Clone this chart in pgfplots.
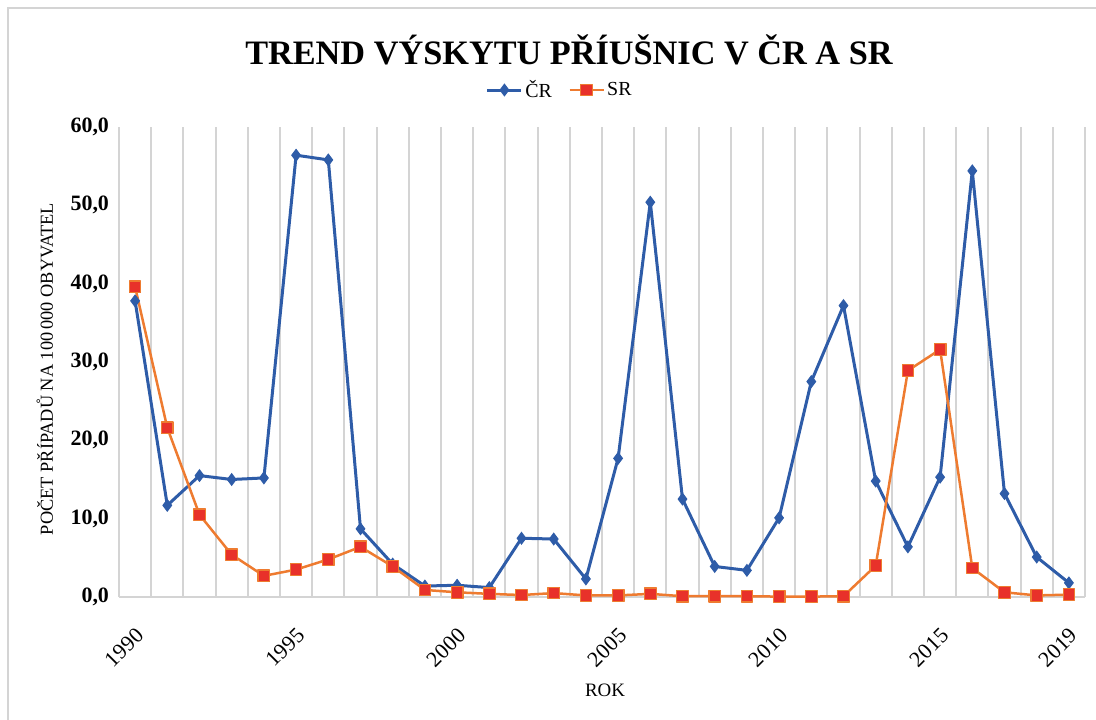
\documentclass[border=0pt]{standalone}
\usepackage{fontspec}
\setmainfont{Liberation Serif}
\usepackage{pgfplots}
\pgfplotsset{compat=1.18}
\definecolor{crblue}{HTML}{2E5CA8}
\definecolor{srorange}{HTML}{EE7B30}
\definecolor{srred}{HTML}{E8312A}
\definecolor{gridgray}{HTML}{D4D4D4}
\pgfplotstableread{
year cr sr
1990 37.8 39.6
1991 11.7 21.6
1992 15.5 10.5
1993 15.0 5.4
1994 15.2 2.7
1995 56.4 3.5
1996 55.8 4.8
1997 8.7 6.4
1998 4.2 3.9
1999 1.4 0.9
2000 1.5 0.6
2001 1.2 0.4
2002 7.5 0.25
2003 7.4 0.5
2004 2.3 0.2
2005 17.7 0.2
2006 50.4 0.4
2007 12.5 0.1
2008 3.9 0.1
2009 3.4 0.1
2010 10.1 0.05
2011 27.5 0.05
2012 37.2 0.1
2013 14.8 4.0
2014 6.4 28.9
2015 15.3 31.6
2016 54.4 3.7
2017 13.2 0.6
2018 5.1 0.2
2019 1.8 0.3
}\datatable
\begin{document}
\begin{tikzpicture}
\useasboundingbox (-59.5bp,-61.5bp) rectangle (488.5bp,298.5bp);
\draw[gridgray, line width=1bp] (-55.25bp,-61.5bp) -- (-55.25bp,294.25bp) -- (488.5bp,294.25bp);
\node[font=\fontsize{17.2}{20}\selectfont\bfseries] at (225bp,273.5bp) {TREND VÝSKYTU PŘÍUŠNIC V ČR A SR};
\begin{axis}[
  at={(0bp,0bp)}, anchor=south west,
  width=483bp, height=235bp, scale only axis,
  xmin=1989.5, xmax=2019.5, ymin=0, ymax=60,
  clip=false,
  axis x line*=bottom, axis y line*=left,
  x axis line style={gridgray, line width=1bp, -},
  y axis line style={draw=none},
  xtick={1990,1995,2000,2005,2010,2015,2019},
  xticklabels={1990,1995,2000,2005,2010,2015,2019},
  minor xtick={1989.5,1990.5,...,2019.5},
  xminorgrids,
  minor x grid style={gridgray, line width=1bp},
  major tick length=0pt, minor tick length=0pt,
  ytick={0,10,...,60},
  yticklabel={\pgfmathprintnumber[fixed,fixed zerofill,precision=1,use comma,assume math mode=true]{\tick}},
  yticklabel style={font=\fontsize{11}{13}\selectfont\bfseries, xshift=-1.5bp},
  xticklabel style={font=\fontsize{11}{13}\selectfont, rotate=45, anchor=east, inner sep=0pt, xshift=-10.5bp, yshift=-14bp},
  legend style={at={(0.4565,1.0787)}, anchor=center, draw=none, fill=none, font=\fontsize{10}{12}\selectfont, legend columns=2, nodes={inner sep=1.2bp}, /tikz/every even column/.append style={column sep=7bp}},
]
\addplot[crblue, line width=1.5bp, line join=round, mark=diamond*, mark size=2.9bp, mark options={fill=crblue, draw=crblue, line width=0.5bp, line join=miter}] table[x=year, y=cr] {\datatable};
\addlegendentry{ČR}
\addplot[srorange, line width=1.25bp, line join=round, mark=square*, mark size=2.9bp, mark options={fill=srred, draw=srorange, line width=0.6bp}] table[x=year, y=sr] {\datatable};
\addlegendentry{SR}
\end{axis}
\node[rotate=90, font=\fontsize{9.2}{11}\selectfont] at (-37bp,114bp) {POČET PŘÍPADŮ NA 100\,000 OBYVATEL};
\node[font=\fontsize{9.5}{11}\selectfont] at (243bp,-46.5bp) {ROK};
\end{tikzpicture}
\end{document}
